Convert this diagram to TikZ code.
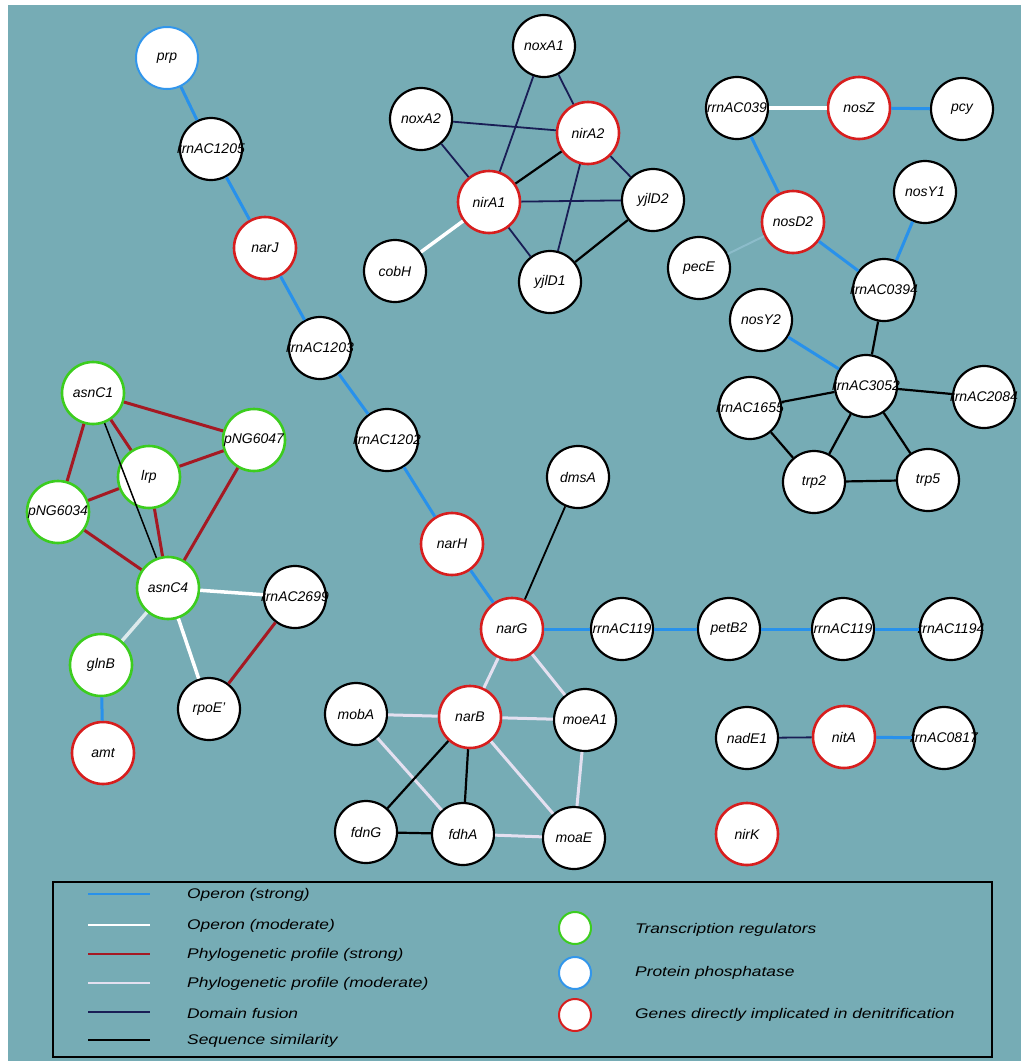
\documentclass[tikz,border=0pt]{standalone}
\usepackage{fontspec}
\setmainfont{Liberation Sans}
\definecolor{teal bg}{RGB}{118,172,181}
\definecolor{opblue}{RGB}{40,145,235}
\definecolor{phyred}{RGB}{165,25,35}
\definecolor{phylav}{RGB}{228,224,240}
\definecolor{navy}{RGB}{25,30,85}
\definecolor{genered}{RGB}{215,30,30}
\definecolor{genegreen}{RGB}{60,205,30}
\definecolor{geneblue}{RGB}{50,150,235}
\definecolor{faintblue}{RGB}{140,188,202}
\begin{document}
\begin{tikzpicture}[x=1pt, y=-1pt,
    gene/.style={circle, draw=black, fill=white, line width=2.2pt, minimum size=62pt, inner sep=0pt},
    redgene/.style={gene, draw=genered, line width=2.6pt},
    greengene/.style={gene, draw=genegreen, line width=2.6pt},
    bluegene/.style={gene, draw=geneblue, line width=2pt},
    every label/.style={font=\itshape\fontsize{14}{16}\selectfont, inner sep=0pt},
    opstrong/.style={opblue, line width=3pt},
    opmod/.style={white, line width=3.5pt},
    phystrong/.style={phyred, line width=3pt},
    phymod/.style={phylav, line width=3pt},
    domfus/.style={navy, line width=1.8pt},
    seqsim/.style={black, line width=2.2pt},
    legtext/.style={anchor=west, font=\itshape\fontsize{14}{16}\selectfont, inner sep=0pt}]

        % Background
        \useasboundingbox (0,0) rectangle (1021,1061);
        \fill[teal bg] (8,5) rectangle (1021,1061);

        % Narrow operon chain
        \node[bluegene, label=center:prp] (prp) at (167,58) {};
        \node[gene, label=center:rrnAC1205] (r1205) at (211,149) {};
        \node[redgene, label=center:narJ] (narJ) at (265,248) {};
        \node[gene, label=center:rrnAC1203] (r1203) at (320,348) {};
        \node[gene, label=center:rrnAC1202] (r1202) at (387,440) {};
        \node[redgene, label=center:narH] (narH) at (452,544) {};
        \node[redgene, label=center:narG] (narG) at (512,629) {};
        \node[gene, label=center:dmsA] (dmsA) at (578,477) {};
        \node[gene, label=center:rrnAC119] (r119a) at (622,629) {};
        \node[gene, label=center:petB2] (petB2) at (729,629) {};
        \node[gene, label=center:rrnAC119] (r119b) at (843,629) {};
        \node[gene, label=center:rrnAC1194] (r1194) at (951,629) {};

        % Nitrite reductase cluster
        \node[gene, label=center:noxA1] (noxA1) at (544,46) {};
        \node[gene, label=center:noxA2] (noxA2) at (421,119) {};
        \node[redgene, label=center:nirA2] (nirA2) at (588,133) {};
        \node[redgene, label=center:nirA1] (nirA1) at (489,202) {};
        \node[gene, label=center:yjlD2] (yjlD2) at (653,200) {};
        \node[gene, label=center:yjlD1] (yjlD1) at (550,282) {};
        \node[gene, label=center:cobH] (cobH) at (395,271) {};

        % Nitrous oxide reductase cluster
        \node[gene, label=center:rrnAC039] (r039) at (737,108) {};
        \node[redgene, label=center:nosZ] (nosZ) at (859,108) {};
        \node[gene, label=center:pcy] (pcy) at (962,109) {};
        \node[redgene, label=center:nosD2] (nosD2) at (793,222) {};
        \node[gene, label=center:nosY1] (nosY1) at (925,192) {};
        \node[gene, label=center:pecE] (pecE) at (699,268) {};
        \node[gene, label=center:rrnAC0394] (r0394) at (884,290) {};
        \node[gene, label=center:nosY2] (nosY2) at (761,320) {};
        \node[gene, label=center:rrnAC3052] (r3052) at (866,386) {};
        \node[gene, label=center:rrnAC1655] (r1655) at (750,408) {};
        \node[gene, label=center:rrnAC2084] (r2084) at (984,397) {};
        \node[gene, label=center:trp2] (trp2) at (814,482) {};
        \node[gene, label=center:trp5] (trp5) at (928,480) {};

        % Regulators
        \node[greengene, label=center:asnC1] (asnC1) at (93,393) {};
        \node[greengene, label=center:pNG6047] (pNG6047) at (254,440) {};
        \node[greengene, label=center:lrp] (lrp) at (149,477) {};
        \node[greengene, label=center:pNG6034] (pNG6034) at (58,512) {};
        \node[greengene, label=center:asnC4] (asnC4) at (168,588) {};
        \node[gene, label=center:rrnAC2699] (r2699) at (295,597) {};
        \node[greengene, label=center:glnB] (glnB) at (101,665) {};
        \node[redgene, label=center:amt] (amt) at (103,753) {};
        \node[gene, label={center:rpoE'}] (rpoE) at (209,709) {};

        % Assimilatory nitrate reductase cluster
        \node[gene, label=center:mobA] (mobA) at (356,714) {};
        \node[redgene, label=center:narB] (narB) at (470,717) {};
        \node[gene, label=center:moeA1] (moeA1) at (585,720) {};
        \node[gene, label=center:fdnG] (fdnG) at (366,832) {};
        \node[gene, label=center:fdhA] (fdhA) at (463,834) {};
        \node[gene, label=center:moaE] (moaE) at (574,838) {};

        % Nitrilase and single genes
        \node[gene, label=center:nadE1] (nadE1) at (747,738) {};
        \node[redgene, label=center:nitA] (nitA) at (844,737) {};
        \node[gene, label=center:rrnAC0817] (r0817) at (944,738) {};
        \node[redgene, label=center:nirK] (nirK) at (747,834) {};

        % Draw operon (strong) links
        \draw[opstrong] (prp) -- (r1205);
        \draw[opstrong] (r1205) -- (narJ);
        \draw[opstrong] (narJ) -- (r1203);
        \draw[opstrong] (r1203) -- (r1202);
        \draw[opstrong] (r1202) -- (narH);
        \draw[opstrong] (narH) -- (narG);
        \draw[opstrong] (narG) -- (r119a);
        \draw[opstrong] (r119a) -- (petB2);
        \draw[opstrong] (petB2) -- (r119b);
        \draw[opstrong] (r119b) -- (r1194);
        \draw[opstrong] (nitA) -- (r0817);
        \draw[opstrong] (glnB) -- (amt);
        \draw[opstrong] (nosZ) -- (pcy);
        \draw[opstrong] (r039) -- (nosD2);
        \draw[opstrong] (nosD2) -- (r0394);
        \draw[opstrong] (nosY1) -- (r0394);
        \draw[opstrong] (nosY2) -- (r3052);

        % Draw operon (moderate) links
        \draw[opmod] (nirA1) -- (cobH);
        \draw[opmod] (r039) -- (nosZ);
        \draw[opmod] (asnC4) -- (r2699);
        \draw[opmod] (asnC4) -- (rpoE);
        \draw[opmod, white!75!teal bg] (asnC4) -- (glnB);
        \draw[faintblue, line width=2pt] (pecE) -- (nosD2);

        % Draw phylogenetic profile (strong) links
        \draw[phystrong] (asnC1) -- (pNG6047);
        \draw[phystrong] (asnC1) -- (lrp);
        \draw[phystrong] (asnC1) -- (pNG6034);
        \draw[phystrong] (lrp) -- (pNG6047);
        \draw[phystrong] (lrp) -- (pNG6034);
        \draw[phystrong] (lrp) -- (asnC4);
        \draw[phystrong] (pNG6034) -- (asnC4);
        \draw[phystrong] (pNG6047) -- (asnC4);
        \draw[phystrong] (r2699) -- (rpoE);

        % Draw phylogenetic profile (moderate) links
        \draw[phymod] (narG) -- (narB);
        \draw[phymod] (narG) -- (moeA1);
        \draw[phymod] (mobA) -- (narB);
        \draw[phymod] (narB) -- (moeA1);
        \draw[phymod] (mobA) -- (fdhA);
        \draw[phymod] (narB) -- (moaE);
        \draw[phymod] (moeA1) -- (moaE);
        \draw[phymod] (fdhA) -- (moaE);

        % Draw domain fusion links
        \draw[domfus] (noxA1) -- (nirA1);
        \draw[domfus] (noxA1) -- (nirA2);
        \draw[domfus] (noxA2) -- (nirA2);
        \draw[domfus] (noxA2) -- (nirA1);
        \draw[domfus] (nirA1) -- (yjlD2);
        \draw[domfus] (nirA1) -- (yjlD1);
        \draw[domfus] (nirA2) -- (yjlD2);
        \draw[domfus] (nirA2) -- (yjlD1);
        \draw[domfus] (nadE1) -- (nitA);

        % Draw sequence similarity links
        \draw[seqsim] (nirA1) -- (nirA2);
        \draw[seqsim] (yjlD1) -- (yjlD2);
        \draw[seqsim, line width=1.8pt] (narG) -- (dmsA);
        \draw[seqsim] (narB) -- (fdnG);
        \draw[seqsim] (narB) -- (fdhA);
        \draw[seqsim] (fdnG) -- (fdhA);
        \draw[seqsim] (r0394) -- (r3052);
        \draw[seqsim] (r3052) -- (r1655);
        \draw[seqsim] (r3052) -- (r2084);
        \draw[seqsim] (r3052) -- (trp2);
        \draw[seqsim] (r3052) -- (trp5);
        \draw[seqsim] (r1655) -- (trp2);
        \draw[seqsim] (trp2) -- (trp5);
        \draw[seqsim, line width=1.5pt] (asnC1) -- (asnC4);

        % Legend box
        \draw[line width=1.5pt] (53,882) rectangle (992,1057);

        % Legend lines
        \coordinate (L1a) at (88,894);  \coordinate (L1b) at (150,894);
        \coordinate (L2a) at (88,925);  \coordinate (L2b) at (150,925);
        \coordinate (L3a) at (88,954);  \coordinate (L3b) at (150,954);
        \coordinate (L4a) at (88,983);  \coordinate (L4b) at (150,983);
        \coordinate (L5a) at (88,1012); \coordinate (L5b) at (150,1012);
        \coordinate (L6a) at (88,1040); \coordinate (L6b) at (150,1040);
        \draw[opstrong, line width=2.8pt] (L1a) -- (L1b);
        \draw[opmod, line width=2.8pt] (L2a) -- (L2b);
        \draw[phystrong, line width=2.8pt] (L3a) -- (L3b);
        \draw[phymod, line width=2.8pt] (L4a) -- (L4b);
        \draw[domfus, line width=2.8pt] (L5a) -- (L5b);
        \draw[seqsim, line width=2.8pt] (L6a) -- (L6b);
        \node[legtext] (t1) at (187,895) {\scalebox{1.24}[1]{Operon (strong)}};
        \node[legtext] (t2) at (187,926) {\scalebox{1.24}[1]{Operon (moderate)}};
        \node[legtext] (t3) at (187,955) {\scalebox{1.24}[1]{Phylogenetic profile (strong)}};
        \node[legtext] (t4) at (187,984) {\scalebox{1.24}[1]{Phylogenetic profile (moderate)}};
        \node[legtext] (t5) at (187,1013) {\scalebox{1.24}[1]{Domain fusion}};
        \node[legtext] (t6) at (187,1041) {\scalebox{1.24}[1]{Sequence similarity}};

        % Legend circles
        \node[greengene, line width=2pt, minimum size=32pt] (c1) at (575,928) {};
        \node[bluegene, minimum size=32pt] (c2) at (575,973) {};
        \node[redgene, line width=2pt, minimum size=32pt] (c3) at (575,1015) {};
        \node[legtext] (t7) at (635,930) {\scalebox{1.24}[1]{Transcription regulators}};
        \node[legtext] (t8) at (635,973) {\scalebox{1.24}[1]{Protein phosphatase}};
        \node[legtext] (t9) at (635,1015) {\scalebox{1.24}[1]{Genes directly implicated in denitrification}};
    \end{tikzpicture}
\end{document}
